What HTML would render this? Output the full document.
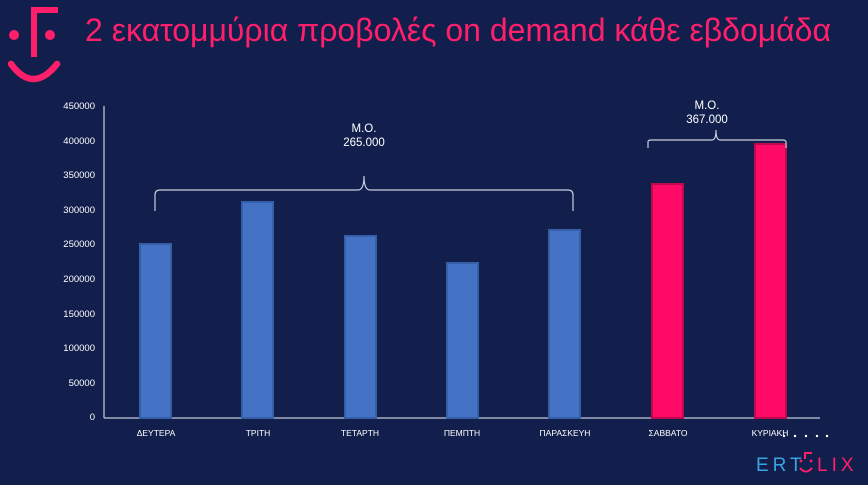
<!DOCTYPE html><html><head><meta charset="utf-8"><style>
body{margin:0;background:#121f4d;}
svg{display:block}
text{font-family:"Liberation Sans","DejaVu Sans",sans-serif}
</style></head><body>
<svg width="868" height="485" viewBox="0 0 868 485">
<rect width="868" height="485" fill="#121f4d"/>
<!-- logo -->
<g fill="none" stroke="#ff1f6a" stroke-width="6.5" stroke-linecap="round">
<path d="M11 64 Q33 94 57 64"/>
</g>
<circle cx="14" cy="35" r="5" fill="#ff1f6a"/>
<circle cx="50" cy="35" r="5" fill="#ff1f6a"/>
<path d="M31 57 V7 H58 V13 H37 V57 Z" fill="#ff1f6a"/>
<text x="85" y="41" font-size="32" fill="#ff1f6a">2 εκατομμύρια προβολές on demand κάθε εβδομάδα</text>
<!-- axes -->
<g stroke="#a6adc2" stroke-width="1.5"><line x1="104" y1="106" x2="104" y2="418"/><line x1="104" y1="418" x2="820" y2="418"/></g>
<g font-size="9.5" fill="#fff" text-anchor="end">
<text x="95" y="109">450000</text><text x="95" y="144">400000</text><text x="95" y="178">350000</text><text x="95" y="213">300000</text><text x="95" y="247">250000</text><text x="95" y="282">200000</text><text x="95" y="317">150000</text><text x="95" y="351">100000</text><text x="95" y="386">50000</text><text x="95" y="420">0</text>
</g>
<g stroke-width="2">
<rect x="140" y="244" width="31" height="174" fill="#4472c4" stroke="#3560a8"/>
<rect x="242" y="202" width="31" height="216" fill="#4472c4" stroke="#3560a8"/>
<rect x="345" y="236" width="31" height="182" fill="#4472c4" stroke="#3560a8"/>
<rect x="447" y="263" width="31" height="155" fill="#4472c4" stroke="#3560a8"/>
<rect x="549" y="230" width="31" height="188" fill="#4472c4" stroke="#3560a8"/>
<rect x="652" y="184" width="31" height="234" fill="#ff0a66" stroke="#c0084e"/>
<rect x="755" y="144" width="31" height="274" fill="#ff0a66" stroke="#c0084e"/>
</g>
<g font-size="8.5" fill="#fff" text-anchor="middle">
<text x="156" y="436">ΔΕΥΤΕΡΑ</text><text x="258" y="436">ΤΡΙΤΗ</text><text x="360" y="436">ΤΕΤΑΡΤΗ</text><text x="462" y="436">ΠΕΜΠΤΗ</text><text x="565" y="436">ΠΑΡΑΣΚΕΥΗ</text><text x="668" y="436">ΣΑΒΒΑΤΟ</text><text x="770" y="436">ΚΥΡΙΑΚΗ</text>
</g>
<g fill="#fff"><circle cx="784" cy="436" r="1.2"/><circle cx="795" cy="436" r="1.2"/><circle cx="806" cy="436" r="1.2"/><circle cx="817" cy="436" r="1.2"/><circle cx="827" cy="436" r="1.2"/></g>
<!-- braces -->
<g fill="none" stroke="#c8cde0" stroke-width="1.2">
<path d="M155 211 V195 Q155 190 160 190 H358 Q364 190 364 176 Q364 190 370 190 H568 Q573 190 573 195 V211"/>
<path d="M648 148 V142 Q648 140 651 140 H712 Q716 140 716 130 Q716 140 720 140 H782 Q786 140 786 142 V148"/>
</g>
<g font-size="11.5" fill="#fff" text-anchor="middle">
<text x="364" y="132">Μ.Ο.</text><text x="364" y="146">265.000</text>
<text x="707" y="109">Μ.Ο.</text><text x="707" y="123">367.000</text>
</g>
<!-- ertflix -->
<text x="756" y="471" font-size="19" fill="#3aa3e0" letter-spacing="4">ERT</text>
<text x="817" y="471" font-size="19" fill="#ff1f6a" letter-spacing="4">LIX</text>
<path d="M805 459 V453 H812" fill="none" stroke="#ff1f6a" stroke-width="2"/>
<circle cx="801" cy="461" r="1.4" fill="#ff1f6a"/><circle cx="811" cy="461" r="1.4" fill="#ff1f6a"/>
<path d="M800 468 Q806 475 812 468" fill="none" stroke="#ff1f6a" stroke-width="2"/>
</svg>
</body></html>
